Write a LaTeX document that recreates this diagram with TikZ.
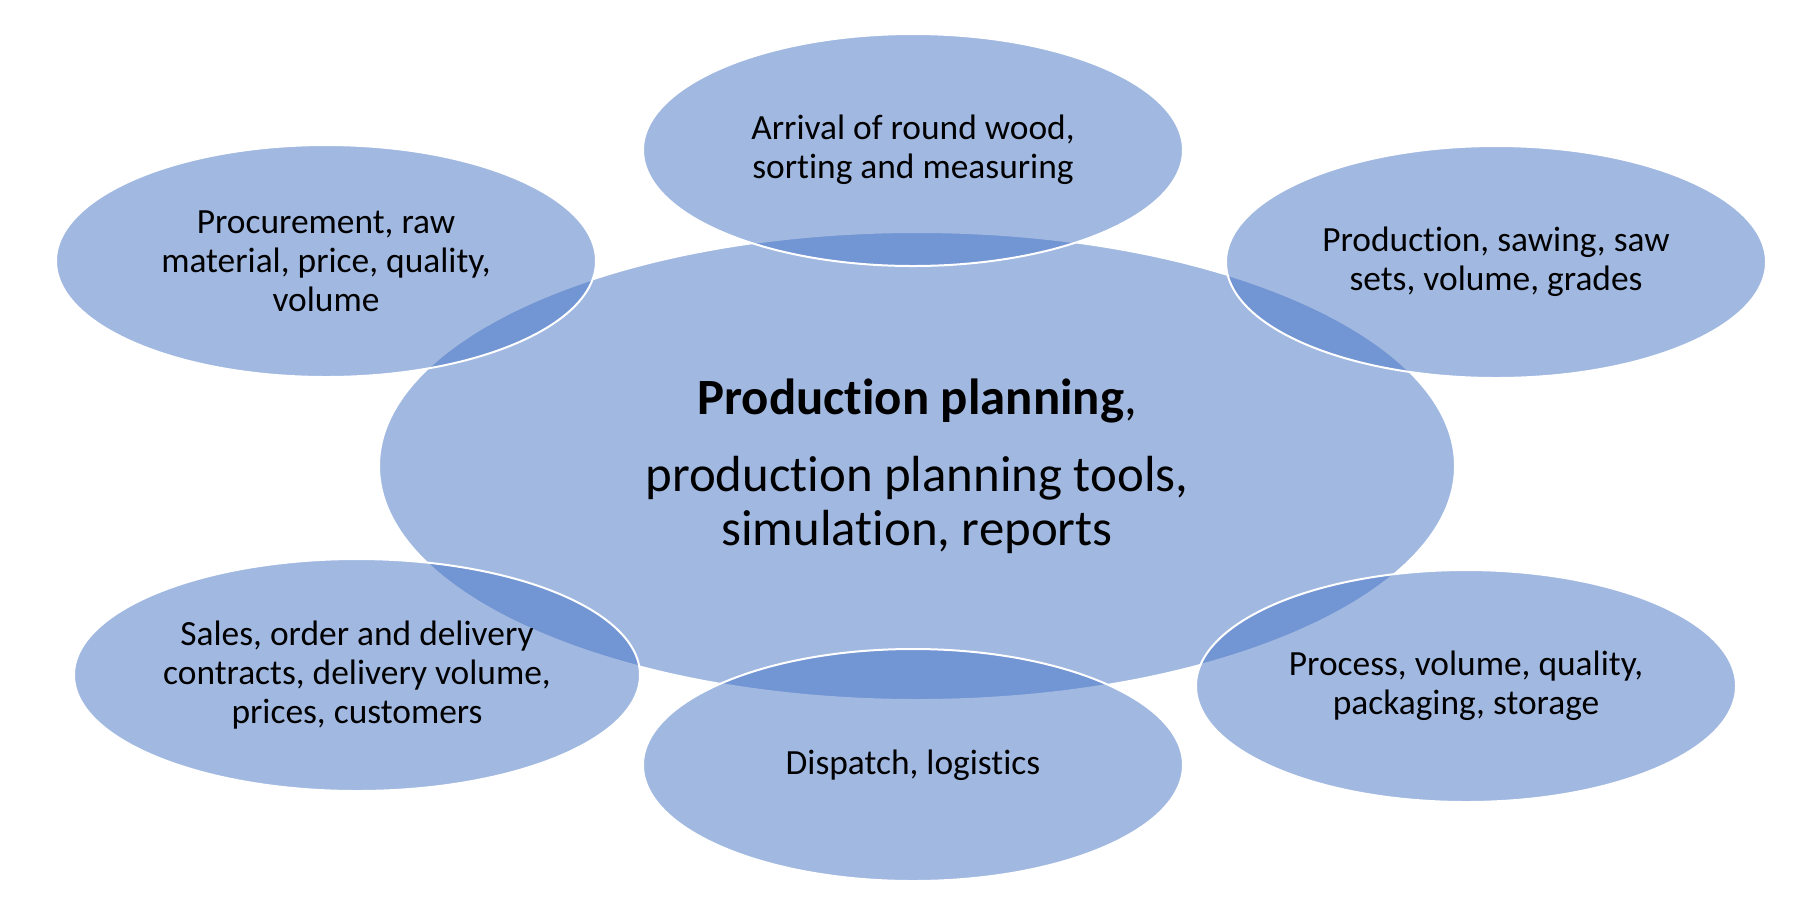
\documentclass[tikz,border=0pt]{standalone}
\usepackage{fontspec}
\setmainfont[Ligatures=NoCommon]{Carlito}
\usetikzlibrary{shapes.geometric}
\definecolor{accent}{HTML}{4472C4}
\tikzset{
  bubble/.style={ellipse, fill=accent, fill opacity=0.5, text opacity=1,
    draw=white, line width=1pt, align=center, inner sep=0pt,
    font=\fontsize{17.7}{19.5}\selectfont},
  hub/.style={bubble, minimum width=538pt, minimum height=234pt,
    font=\fontsize{25.4}{27}\selectfont},
  leaf/.style={bubble, minimum width=270pt, minimum height=116pt},
}
\begin{document}
\begin{tikzpicture}[x=0.5pt, y=-0.5pt]
\useasboundingbox (0,0) rectangle (1810,912);

\node[hub] (hub) at (917,466) {\textbf{Production planning},\\[11.5pt]
  production planning tools,\\ simulation, reports};

\node[leaf] (arrival) at (913,150) {Arrival of round wood,\\ sorting and measuring};
\node[leaf] (procurement) at (326,261) {Procurement, raw\\ material, price, quality,\\ volume};
\node[leaf] (production) at (1496,262) {Production, sawing, saw\\ sets, volume, grades};
\node[leaf, minimum width=283pt] (sales) at (357,675) {Sales, order and delivery\\ contracts, delivery volume,\\ prices, customers};
\node[leaf] (dispatch) at (913,765) {Dispatch, logistics};
\node[leaf] (process) at (1466,686) {Process, volume, quality,\\ packaging, storage};
\end{tikzpicture}
\end{document}
